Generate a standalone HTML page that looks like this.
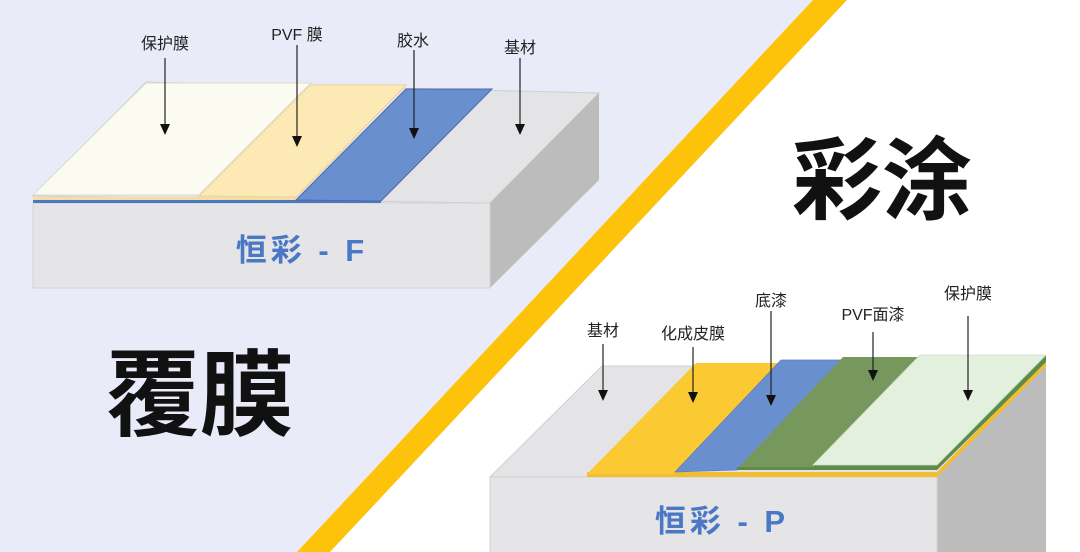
<!DOCTYPE html>
<html><head><meta charset="utf-8"><style>
html,body{margin:0;padding:0;width:1080px;height:552px;overflow:hidden;background:#fff}
svg{display:block}
text{font-family:"Liberation Sans","Noto Sans CJK SC",sans-serif}
</style></head><body>
<svg width="1080" height="552" viewBox="0 0 1080 552" xmlns="http://www.w3.org/2000/svg">
<rect width="1080" height="552" fill="#fff"/>
<polygon points="0,0 813,0 297,552 0,552" fill="#e9ecf8"/>
<polygon points="813,0 847,0 330,552 297,552" fill="#fcc30a"/>

<!-- left block -->
<polygon points="33,196 146,82 599,93 490,203" fill="#e4e4e6" stroke="#d0d0d0" stroke-width="1"/>
<polygon points="490,203 599,93 599,180 490,288" fill="#bcbcbc"/>
<rect x="33" y="203" width="457" height="85" fill="#e5e5e7" stroke="#d2d2d2"/>
<polygon points="33,200 381,200 381,203 33,203" fill="#4a78c4"/>
<polygon points="33,197 296,197 296,200 33,200" fill="#f6df9e"/>
<polygon points="296,200 406,89 492,89 381,201" fill="#6a8fcf" stroke="#4a6aa8" stroke-width="1"/>
<polygon points="199,196 310,85 406,85 296,197" fill="#fde9b4" stroke="#e8d39a" stroke-width="1"/>
<polygon points="33,195 146,83 311,83 199,195" fill="#fcfbf1" stroke="#dcdcd0" stroke-width="1"/>
<text x="302" y="261" font-size="31" font-weight="bold" fill="#4a78c4" text-anchor="middle" letter-spacing="4">恒彩 - F</text>

<g font-size="16" fill="#222" text-anchor="middle">
<text x="165" y="49">保护膜</text>
<text x="297" y="40">PVF 膜</text>
<text x="413" y="46">胶水</text>
<text x="520" y="53">基材</text>
</g>
<g stroke="#222" stroke-width="1.2">
<line x1="165" y1="58" x2="165" y2="126"/>
<line x1="297" y1="45" x2="297" y2="138"/>
<line x1="414" y1="50" x2="414" y2="130"/>
<line x1="520" y1="58" x2="520" y2="126"/>
</g>
<g fill="#111">
<polygon points="160,124 170,124 165,135"/>
<polygon points="292,136 302,136 297,147"/>
<polygon points="409,128 419,128 414,139"/>
<polygon points="515,124 525,124 520,135"/>
</g>

<!-- right block -->
<polygon points="490,477 602,366 1046,366 937,477" fill="#e4e4e6" stroke="#d0d0d0"/>
<polygon points="937,477 1046,366 1046,552 937,552" fill="#bcbcbc"/>
<rect x="490" y="477" width="447" height="80" fill="#e5e5e7" stroke="#d2d2d2"/>
<polygon points="587,477 937,477 1046,366 1046,360 937,472 587,472" fill="#f2bd2e"/>
<polygon points="587,474 696,363 781,363 675,474" fill="#fbc932"/>
<polygon points="675,472 781,360 843,360 737,470" fill="#6a8fcf" stroke="#5a7fbf" stroke-width="0.8"/>
<polygon points="737,469 843,357 920,357 813,467" fill="#77985d"/>
<polygon points="813,467 920,355 1046,355 1046,362 937,470 737,470 737,467" fill="#5e8a4a"/>
<polygon points="813,465 920,355 1046,355 937,465" fill="#e3f0de" stroke="#cfdccb" stroke-width="0.8"/>
<text x="722" y="532" font-size="31" font-weight="bold" fill="#4a78c4" text-anchor="middle" letter-spacing="4">恒彩 - P</text>

<g font-size="16" fill="#222" text-anchor="middle">
<text x="603" y="336">基材</text>
<text x="693" y="339">化成皮膜</text>
<text x="771" y="306">底漆</text>
<text x="873" y="320">PVF面漆</text>
<text x="968" y="299">保护膜</text>
</g>
<g stroke="#222" stroke-width="1.2">
<line x1="603" y1="344" x2="603" y2="392"/>
<line x1="693" y1="347" x2="693" y2="394"/>
<line x1="771" y1="311" x2="771" y2="397"/>
<line x1="873" y1="332" x2="873" y2="372"/>
<line x1="968" y1="316" x2="968" y2="392"/>
</g>
<g fill="#111">
<polygon points="598,390 608,390 603,401"/>
<polygon points="688,392 698,392 693,403"/>
<polygon points="766,395 776,395 771,406"/>
<polygon points="868,370 878,370 873,381"/>
<polygon points="963,390 973,390 968,401"/>
</g>

<text x="882" y="212" font-size="90" font-weight="bold" fill="#111" text-anchor="middle" font-family="'Noto Sans CJK SC',sans-serif">彩涂</text>
<text x="200" y="428" font-size="94" font-weight="bold" fill="#111" text-anchor="middle" font-family="'Noto Sans CJK SC',sans-serif">覆膜</text>
</svg>
</body></html>
